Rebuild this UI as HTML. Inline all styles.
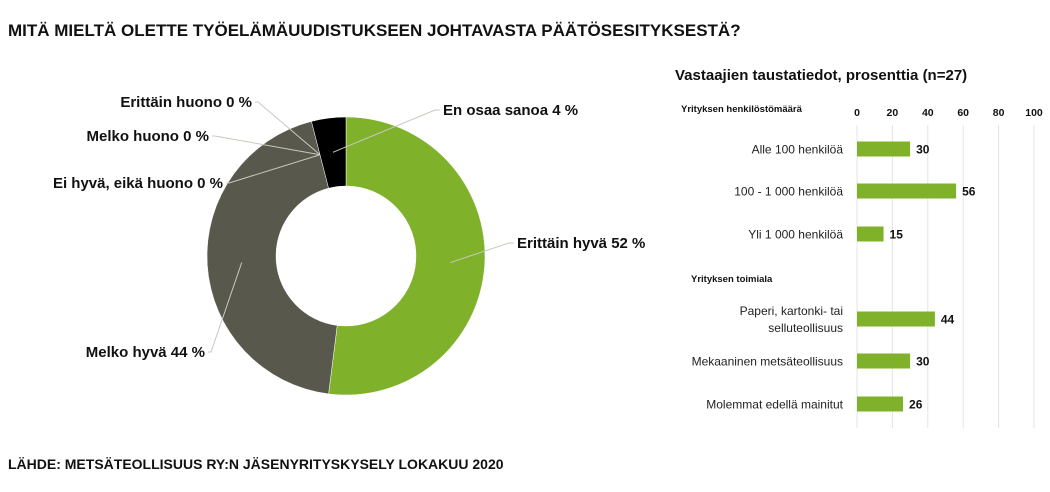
<!DOCTYPE html>
<html><head><meta charset="utf-8"><style>
body{margin:0;background:#fff;width:1050px;height:487px;overflow:hidden;font-family:"Liberation Sans",sans-serif}
svg text{font-family:"Liberation Sans",sans-serif}
</style></head><body>
<svg id="c" width="1050" height="487" viewBox="0 0 1050 487">
<text x="8" y="36" font-size="17" font-weight="bold" fill="#111">MITÄ MIELTÄ OLETTE TYÖELÄMÄUUDISTUKSEEN JOHTAVASTA PÄÄTÖSESITYKSESTÄ?</text>
<text x="8" y="469" font-size="14" font-weight="bold" fill="#111">LÄHDE: METSÄTEOLLISUUS RY:N JÄSENYRITYSKYSELY LOKAKUU 2020</text>
<text x="675" y="80" font-size="15" font-weight="bold" fill="#111">Vastaajien taustatiedot, prosenttia (n=27)</text>
<text x="681" y="112" font-size="9.5" font-weight="bold" fill="#111">Yrityksen henkilöstömäärä</text>
<text x="691" y="282" font-size="9.5" font-weight="bold" fill="#111">Yrityksen toimiala</text>
<g id="donut"></g>
<g id="bars"></g>
</svg>
<script>
const donutLabels=["Erittäin hyvä 52 %","Melko hyvä 44 %","Ei hyvä, eikä huono 0 %","Melko huono 0 %","Erittäin huono 0 %","En osaa sanoa 4 %"];
const donutValues=[52,44,0,0,0,4];
const donutColors=["#80b12a","#58584c","#777","#999","#bbb","#000"];
const barCategories=["Alle 100 henkilöä","100 - 1 000 henkilöä","Yli 1 000 henkilöä","Paperi, kartonki- tai|selluteollisuus","Mekaaninen metsäteollisuus","Molemmat edellä mainitut"];
const barValues=[30,56,15,44,30,26];
const tickLabels=[0,20,40,60,80,100];
const NS="http://www.w3.org/2000/svg";
function mk(t,a,p){const e=document.createElementNS(NS,t);for(const k in a)e.setAttribute(k,a[k]);p.appendChild(e);return e;}
// donut
const dg=document.getElementById('donut');
const cx=346,cy=256,R=139,r=70;
const total=donutValues.reduce((a,b)=>a+b,0);
function pt(ang,rad){return [cx+rad*Math.sin(ang),cy-rad*Math.cos(ang)];}
let acc=0;
const labelPos=[[517,248,"start"],[205,357,"end"],[223,188,"end"],[209,141,"end"],[252,107,"end"],[443,115,"start"]];
donutValues.forEach((v,i)=>{
  const a0=acc/total*2*Math.PI;acc+=v;const a1=acc/total*2*Math.PI;
  const mid=(a0+a1)/2;
  if(v>0){
    const large=(a1-a0)>Math.PI?1:0;
    const [x0,y0]=pt(a0,R),[x1,y1]=pt(a1,R),[x2,y2]=pt(a1,r),[x3,y3]=pt(a0,r);
    const p=mk('path',{d:`M${x0} ${y0}A${R} ${R} 0 ${large} 1 ${x1} ${y1}L${x2} ${y2}A${r} ${r} 0 ${large} 0 ${x3} ${y3}Z`,fill:donutColors[i],stroke:"#fff","stroke-width":0.5},dg);
    
    
  }
  const [lx,ly,anc]=labelPos[i];
  const [ax,ay]=pt(mid,(R+r)/2);
  const ex=anc==="start"?lx-8:lx+6;
  const ln=mk('polyline',{points:`${ax},${ay} ${ex},${ly-5} ${anc==="start"?lx-3:lx+3},${ly-5}`,fill:"none",stroke:"#c8c8c0","stroke-width":1},dg);
  
  
  const t=mk('text',{x:lx,y:ly,"font-size":15,"font-weight":"bold","text-anchor":anc,fill:"#111"},dg);
  t.textContent=donutLabels[i];
  
  
});
// bars
const bg=document.getElementById('bars');
const x0=857,x1=1034;
function xs(v){return x0+(v-0)/(100-0)*(x1-x0);}
const rowY=[149,191,234,319,361,404];
tickLabels.forEach(v=>{
  const l=mk('line',{x1:xs(v),x2:xs(v),y1:125,y2:428,stroke:"#e4e4e4","stroke-width":1},bg);
  
  
  const t=mk('text',{x:xs(v),y:116,"font-size":10.5,"font-weight":"bold","text-anchor":"middle",fill:"#111"},bg);
  t.textContent=v;
  
  
});
barCategories.forEach((c,i)=>{
  const y=rowY[i];
  const b=mk('rect',{x:xs(0),y:y-7.5,width:xs(barValues[i])-xs(0),height:15,fill:"#80b12a"},bg);
  
  
  const v=mk('text',{x:xs(barValues[i])+6,y:y+4.5,"font-size":12,"font-weight":"bold",fill:"#111"},bg);
  v.textContent=barValues[i];
  
  
  const parts=c.split('|');
  parts.forEach((p,j)=>{
    const t=mk('text',{x:843,y:y+4.5+(j-(parts.length-1)/2)*17,"font-size":12,"text-anchor":"end",fill:"#222"},bg);
    t.textContent=p;
    
    
  });
});
</script>
</body></html>
